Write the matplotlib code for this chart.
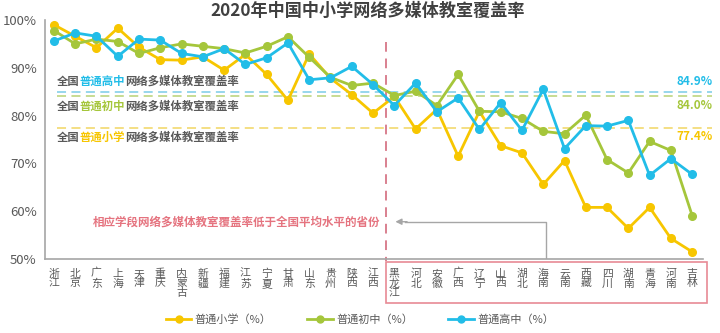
import matplotlib
matplotlib.use("Agg")
import matplotlib.pyplot as plt
from matplotlib.lines import Line2D
from matplotlib.patches import Rectangle
from matplotlib.transforms import offset_copy

plt.rcParams['font.family'] = ['Noto Sans CJK SC', 'DejaVu Sans']

provinces = ["浙江", "北京", "广东", "上海", "天津", "重庆", "内蒙古", "新疆", "福建", "江苏",
             "宁夏", "甘肃", "山东", "贵州", "陕西", "江西", "黑龙江", "河北", "安徽", "广西",
             "辽宁", "山西", "湖北", "海南", "云南", "西藏", "四川", "湖南", "青海", "河南", "吉林"]
primary = [99.0, 96.6, 94.2, 98.3, 94.3, 91.7, 91.6, 92.3, 89.5, 92.8,
           88.6, 83.2, 92.9, 87.8, 84.4, 80.5, 84.0, 77.2, 81.3, 71.5,
           80.9, 73.7, 72.2, 65.6, 70.6, 60.8, 60.8, 56.4, 60.8, 54.3, 51.5]
junior = [97.8, 95.0, 96.0, 95.5, 93.0, 94.2, 95.0, 94.5, 94.0, 93.1,
          94.5, 96.5, 92.2, 88.0, 86.3, 86.8, 84.2, 85.1, 82.1, 88.6,
          80.9, 80.8, 79.4, 76.7, 76.2, 80.1, 70.8, 68.0, 74.6, 72.7, 59.1]
senior = [95.6, 97.3, 96.6, 92.4, 96.0, 95.8, 93.0, 92.3, 94.0, 90.7,
          92.1, 95.2, 87.5, 87.9, 90.3, 86.5, 82.1, 86.8, 80.8, 83.7,
          77.1, 82.7, 76.9, 85.5, 73.1, 77.9, 77.8, 79.0, 67.5, 71.0, 67.7]
national = {"高中": 84.9, "初中": 84.0, "小学": 77.4}
series_names = ["普通小学（%）", "普通初中（%）", "普通高中（%）"]
yticks = [50, 60, 70, 80, 90, 100]

c_pri = "#f7c600"
c_jun = "#a5c63b"
c_sen = "#22bde8"
c_red = "#e5737f"
gray_txt = "#595959"

fig = plt.figure(figsize=(7.2, 3.33), dpi=100)
ax = fig.add_axes([45/720, 1-259/333, (703-45)/720, (259-20)/333])

x = list(range(len(provinces)))
for vals, col, name in [(primary, c_pri, series_names[0]),
                        (junior, c_jun, series_names[1]),
                        (senior, c_sen, series_names[2])]:
    ax.plot(x, vals, color=col, lw=2.0, marker='o', ms=5.5, label=name, zorder=3)

ax.set_xlim(-0.42, 30.51)
ax.set_ylim(50, 100)
ax.set_yticks(yticks)
ax.set_yticklabels([f"{v}%" for v in yticks], color=gray_txt, fontsize=9.5)
ax.set_xticks(x)
ax.set_xticklabels(["\n".join(p) for p in provinces], fontsize=7.8, color=gray_txt,
                   linespacing=0.95, va='top')
ax.tick_params(axis='x', length=0, pad=7)
ax.tick_params(axis='y', length=0, pad=6)
for s in ['top', 'right']:
    ax.spines[s].set_visible(False)
for s in ['left', 'bottom']:
    ax.spines[s].set_color("#a6a6a6")
    ax.spines[s].set_linewidth(1.2)

# national reference lines
ref_cols = {"高中": "#8fd3ea", "初中": "#c3d98a", "小学": "#f3dc7a"}
for k, v in national.items():
    ax.axhline(v, xmin=0.018, xmax=1.014, color=ref_cols[k], lw=1.3,
               ls=(0, (5, 3)), clip_on=False, zorder=1)

# multi-coloured labels: pieces placed by measured prefix widths
fs = 8.2
renderer = fig.canvas.get_renderer()
def text_w(s):
    t = fig.text(0, 0, s, fontsize=fs, fontweight='bold')
    w = t.get_window_extent(renderer).width
    t.remove()
    return w

def multitext(xp, yp, parts):
    prefix = ""
    for txt, col in parts:
        prefix += txt
        off = text_w(prefix) - text_w(txt)
        tr = offset_copy(ax.transData, fig=fig, x=off, y=0, units='dots')
        ax.text(xp, yp, txt, transform=tr, color=col, fontsize=fs,
                fontweight='bold', va='center', ha='left')

lab_y = {"高中": 87.2, "初中": 81.9, "小学": 75.4}
lab_c = {"高中": c_sen, "初中": c_jun, "小学": c_pri}
for k in ["高中", "初中", "小学"]:
    multitext(0.14, lab_y[k], [("全国", gray_txt), ("普通" + k, lab_c[k]),
                               ("网络多媒体教室覆盖率", gray_txt)])

val_y = {"高中": 87.1, "初中": 82.1, "小学": 75.6}
for k in ["高中", "初中", "小学"]:
    ax.text(30.94, val_y[k], f"{national[k]}%", color=lab_c[k], fontsize=8.5,
            fontweight='bold', ha='right', va='center', clip_on=False)

# title
fig.text(0.51, 1-11/333, "2020年中国中小学网络多媒体教室覆盖率", ha='center', va='center',
         fontsize=12.3, fontweight='bold', color="#404040")

# red dashed separator and box
ax.plot([15.6, 15.6], [95.5, 49.5], color="#d9808f", lw=1.4, ls=(0, (5, 3.5)),
        clip_on=False, zorder=2)
fig.add_artist(Rectangle((386/720, 1-303/333), (707-386)/720, (303-262)/333,
                         transform=fig.transFigure, fill=False,
                         edgecolor="#e88a95", lw=1.2))

# annotation
ax.text(15.35, 57.8, "相应学段网络多媒体教室覆盖率低于全国平均水平的省份", color=c_red,
        fontsize=8.3, fontweight='bold', ha='right', va='center')
ax.plot([23.13, 23.13, 16.5], [50, 57.8, 57.8], color="#a6a6a6", lw=1.0, zorder=2)
ax.annotate("", xy=(16.05, 57.8), xytext=(16.6, 57.8),
            arrowprops=dict(arrowstyle='-|>', color="#a6a6a6", lw=1.0,
                            mutation_scale=9, shrinkA=0, shrinkB=0))

# legend
handles = [Line2D([], [], color=c, lw=2.0, marker='o', ms=5)
           for c in [c_pri, c_jun, c_sen]]
fig.legend(handles, series_names, loc='center', bbox_to_anchor=(0.5, 1-319/333),
           ncol=3, frameon=False, fontsize=8, handlelength=2.3, columnspacing=3.2,
           handletextpad=0.3, labelcolor=gray_txt)

fig.savefig("out.png", dpi=100)
